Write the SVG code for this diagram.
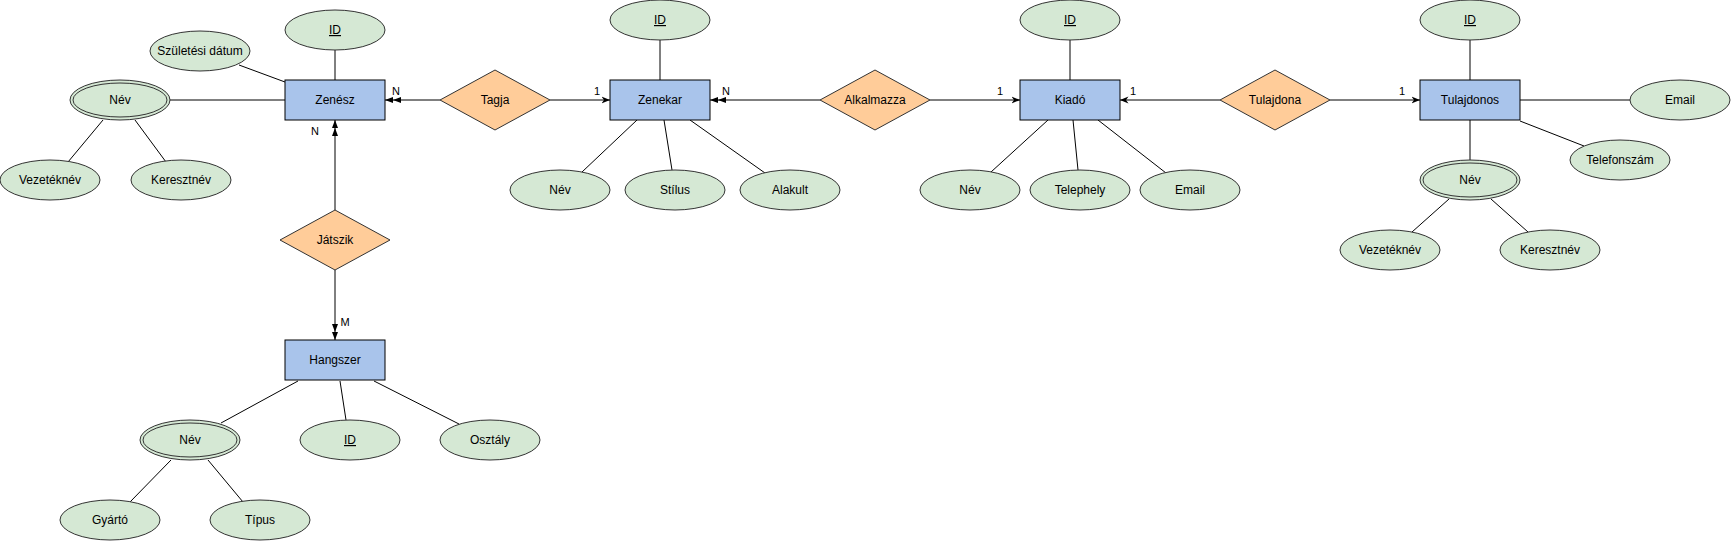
<svg xmlns="http://www.w3.org/2000/svg" width="1731" height="541" viewBox="0 0 1731 541">
<style>
text{font-family:"Liberation Sans",Arial,sans-serif;font-size:12px;fill:#000;text-anchor:middle}
.lbl{font-size:11px}
.ent{fill:#a9c4eb;stroke:#000;stroke-width:1}
.rel{fill:#ffcc99;stroke:#333;stroke-width:1}
.att{fill:#d5e8d4;stroke:#333;stroke-width:1}
.ln{stroke:#000;stroke-width:1;fill:none}
.u{text-decoration:underline}
</style>
<defs>
<marker id="many" markerUnits="userSpaceOnUse" markerWidth="17" markerHeight="8" refX="16" refY="4" orient="auto">
<path d="M0,1 L8,4 L0,7 z M8,1 L16,4 L8,7 z" fill="#000"/>
</marker>
<marker id="one" markerUnits="userSpaceOnUse" markerWidth="9" markerHeight="8" refX="8.5" refY="4" orient="auto">
<path d="M0,0.5 L8.5,4 L0,7.5 L2.5,4 z" fill="#000"/>
</marker>
</defs>
<rect width="1731" height="541" fill="#fff"/>
<g id="connectors">
<line class="ln" x1="440" y1="100" x2="385" y2="100" marker-end="url(#many)"/>
<line class="ln" x1="550" y1="100" x2="610" y2="100" marker-end="url(#one)"/>
<line class="ln" x1="820" y1="100" x2="710" y2="100" marker-end="url(#many)"/>
<line class="ln" x1="930" y1="100" x2="1020" y2="100" marker-end="url(#one)"/>
<line class="ln" x1="1220" y1="100" x2="1120" y2="100" marker-end="url(#one)"/>
<line class="ln" x1="1330" y1="100" x2="1420" y2="100" marker-end="url(#one)"/>
<line class="ln" x1="335" y1="210" x2="335" y2="120" marker-end="url(#many)"/>
<line class="ln" x1="335" y1="270" x2="335" y2="340" marker-end="url(#many)"/>
<text class="lbl" x="396" y="95">N</text>
<text class="lbl" x="597" y="95">1</text>
<text class="lbl" x="726" y="95">N</text>
<text class="lbl" x="1000" y="95">1</text>
<text class="lbl" x="1133" y="95">1</text>
<text class="lbl" x="1402" y="95">1</text>
<text class="lbl" x="315" y="135">N</text>
<text class="lbl" x="345" y="326">M</text>
<!-- attribute lines -->
<line class="ln" x1="335" y1="50" x2="335" y2="80"/>
<line class="ln" x1="239" y1="65" x2="285" y2="82"/>
<line class="ln" x1="170" y1="100" x2="285" y2="100"/>
<line class="ln" x1="103" y1="120" x2="68" y2="162"/>
<line class="ln" x1="135" y1="120" x2="166" y2="162"/>
<line class="ln" x1="298" y1="381" x2="221" y2="423"/>
<line class="ln" x1="340" y1="381" x2="346" y2="420"/>
<line class="ln" x1="374" y1="381" x2="459" y2="424"/>
<line class="ln" x1="171" y1="460" x2="130" y2="502"/>
<line class="ln" x1="208" y1="460" x2="243" y2="502"/>
<line class="ln" x1="660" y1="40" x2="660" y2="80"/>
<line class="ln" x1="637" y1="120" x2="582" y2="172"/>
<line class="ln" x1="664" y1="120" x2="672" y2="170"/>
<line class="ln" x1="690" y1="120" x2="765" y2="173"/>
<line class="ln" x1="1070" y1="40" x2="1070" y2="80"/>
<line class="ln" x1="1048" y1="120" x2="991" y2="172"/>
<line class="ln" x1="1073" y1="120" x2="1078" y2="170"/>
<line class="ln" x1="1098" y1="120" x2="1166" y2="173"/>
<line class="ln" x1="1470" y1="40" x2="1470" y2="80"/>
<line class="ln" x1="1520" y1="100" x2="1630" y2="100"/>
<line class="ln" x1="1520" y1="121" x2="1584" y2="146"/>
<line class="ln" x1="1470" y1="120" x2="1470" y2="160"/>
<line class="ln" x1="1449" y1="199" x2="1412" y2="232"/>
<line class="ln" x1="1491" y1="199" x2="1528" y2="232"/>
</g>
<g id="zenesz"><rect class="ent" x="285" y="80" width="100" height="40"/><text x="335" y="104">Zenész</text></g>
<g id="zenekar"><rect class="ent" x="610" y="80" width="100" height="40"/><text x="660" y="104">Zenekar</text></g>
<g id="kiado"><rect class="ent" x="1020" y="80" width="100" height="40"/><text x="1070" y="104">Kiadó</text></g>
<g id="tulajdonos"><rect class="ent" x="1420" y="80" width="100" height="40"/><text x="1470" y="104">Tulajdonos</text></g>
<g id="hangszer"><rect class="ent" x="285" y="340" width="100" height="40"/><text x="335" y="364">Hangszer</text></g>
<g id="tagja"><polygon class="rel" points="440,100 495,70 550,100 495,130"/><text x="495" y="104">Tagja</text></g>
<g id="alkalmazza"><polygon class="rel" points="820,100 875,70 930,100 875,130"/><text x="875" y="104">Alkalmazza</text></g>
<g id="tulajdona"><polygon class="rel" points="1220,100 1275,70 1330,100 1275,130"/><text x="1275" y="104">Tulajdona</text></g>
<g id="jatszik"><polygon class="rel" points="280,240 335,210 390,240 335,270"/><text x="335" y="244">Játszik</text></g>
<g id="zenesz-id"><ellipse class="att" cx="335" cy="30" rx="50" ry="20"/><text class="u" x="335" y="34">ID</text></g>
<g id="zenesz-szul"><ellipse class="att" cx="200" cy="51" rx="50" ry="20"/><text x="200" y="55">Születési dátum</text></g>
<g id="zenesz-nev"><ellipse class="att" cx="120" cy="100" rx="50" ry="20"/><ellipse class="att" cx="120" cy="100" rx="47" ry="17"/><text x="120" y="104">Név</text></g>
<g id="zenesz-vez"><ellipse class="att" cx="50" cy="180" rx="50" ry="20"/><text x="50" y="184">Vezetéknév</text></g>
<g id="zenesz-ker"><ellipse class="att" cx="181" cy="180" rx="50" ry="20"/><text x="181" y="184">Keresztnév</text></g>
<g id="hang-nev"><ellipse class="att" cx="190" cy="440" rx="50" ry="20"/><ellipse class="att" cx="190" cy="440" rx="47" ry="17"/><text x="190" y="444">Név</text></g>
<g id="hang-id"><ellipse class="att" cx="350" cy="440" rx="50" ry="20"/><text class="u" x="350" y="444">ID</text></g>
<g id="hang-osztaly"><ellipse class="att" cx="490" cy="440" rx="50" ry="20"/><text x="490" y="444">Osztály</text></g>
<g id="hang-gyarto"><ellipse class="att" cx="110" cy="520" rx="50" ry="20"/><text x="110" y="524">Gyártó</text></g>
<g id="hang-tipus"><ellipse class="att" cx="260" cy="520" rx="50" ry="20"/><text x="260" y="524">Típus</text></g>
<g id="zenekar-id"><ellipse class="att" cx="660" cy="20" rx="50" ry="20"/><text class="u" x="660" y="24">ID</text></g>
<g id="zenekar-nev"><ellipse class="att" cx="560" cy="190" rx="50" ry="20"/><text x="560" y="194">Név</text></g>
<g id="zenekar-stilus"><ellipse class="att" cx="675" cy="190" rx="50" ry="20"/><text x="675" y="194">Stílus</text></g>
<g id="zenekar-alakult"><ellipse class="att" cx="790" cy="190" rx="50" ry="20"/><text x="790" y="194">Alakult</text></g>
<g id="kiado-id"><ellipse class="att" cx="1070" cy="20" rx="50" ry="20"/><text class="u" x="1070" y="24">ID</text></g>
<g id="kiado-nev"><ellipse class="att" cx="970" cy="190" rx="50" ry="20"/><text x="970" y="194">Név</text></g>
<g id="kiado-telephely"><ellipse class="att" cx="1080" cy="190" rx="50" ry="20"/><text x="1080" y="194">Telephely</text></g>
<g id="kiado-email"><ellipse class="att" cx="1190" cy="190" rx="50" ry="20"/><text x="1190" y="194">Email</text></g>
<g id="tulaj-id"><ellipse class="att" cx="1470" cy="20" rx="50" ry="20"/><text class="u" x="1470" y="24">ID</text></g>
<g id="tulaj-email"><ellipse class="att" cx="1680" cy="100" rx="50" ry="20"/><text x="1680" y="104">Email</text></g>
<g id="tulaj-tel"><ellipse class="att" cx="1620" cy="160" rx="50" ry="20"/><text x="1620" y="164">Telefonszám</text></g>
<g id="tulaj-nev"><ellipse class="att" cx="1470" cy="180" rx="50" ry="20"/><ellipse class="att" cx="1470" cy="180" rx="47" ry="17"/><text x="1470" y="184">Név</text></g>
<g id="tulaj-vez"><ellipse class="att" cx="1390" cy="250" rx="50" ry="20"/><text x="1390" y="254">Vezetéknév</text></g>
<g id="tulaj-ker"><ellipse class="att" cx="1550" cy="250" rx="50" ry="20"/><text x="1550" y="254">Keresztnév</text></g>
</svg>
